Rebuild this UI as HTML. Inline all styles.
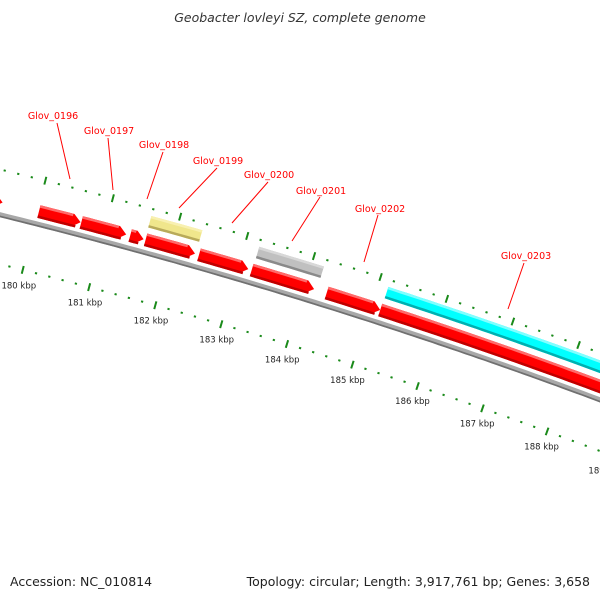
<!DOCTYPE html>
<html><head><meta charset="utf-8"><style>
html,body{margin:0;padding:0;background:#fff;}
svg{display:block;font-family:"DejaVu Sans","Liberation Sans",sans-serif;}
</style></head><body>
<svg id="map" width="600" height="600" viewBox="0 0 600 600" xmlns="http://www.w3.org/2000/svg">
<rect width="600" height="600" fill="#fff"/>
<text x="300" y="22" text-anchor="middle" font-size="12.5" font-style="italic" fill="#333">Geobacter lovleyi SZ, complete genome</text>
<g id="ticks"></g><g id="feat"></g><g id="labels"></g>
<text x="10" y="586" font-size="12.5" fill="#222">Accession: NC_010814</text>
<text x="590" y="586" text-anchor="end" font-size="12.5" fill="#222">Topology: circular; Length: 3,917,761 bp; Genes: 3,658</text>
</svg>
<script>
// data (bp)
const fwdStarts = [178800, 180020, 180650, 181380, 181610, 182410, 183200, 184330, 185140];
const fwdEnds   = [179480, 180640, 181320, 181580, 182350, 183150, 184140, 185140, 189500];
const ring2Starts = [181600, 183210, 185150];
const ring2Ends   = [182360, 184180, 189500];
const ring2Colors = ["yellow","gray","cyan"];
const tickLabelsKbp = [179,180,181,182,183,184,185,186,187,188,189];
const geneNames = ["Glov_0196","Glov_0197","Glov_0198","Glov_0199","Glov_0200","Glov_0201","Glov_0202","Glov_0203"];

const NS="http://www.w3.org/2000/svg";
const CX=-1307, CY=5517, R0=5461, TH0=-1.3226, K=0.012676/1000;
function th(bp){return TH0+(bp-180000)*K;}
function pt(bp,r){const t=th(bp);return [CX+r*Math.cos(t),CY+r*Math.sin(t)];}
function arcPts(s,e,r){const out=[];const n=Math.max(2,Math.ceil((e-s)/100));for(let i=0;i<=n;i++){out.push(pt(s+(e-s)*i/n,r));}return out;}
function mk(tag,attrs,parent){const el=document.createElementNS(NS,tag);for(const k in attrs)el.setAttribute(k,attrs[k]);parent.appendChild(el);return el;}
function band(s,e,r1,r2,head){ // polygon points
  let pts=[];
  if(head){const h=Math.min(115,(e-s)*0.6);const b=e-h;
    pts=pts.concat(arcPts(s,b,r2));pts.push(pt(e,(r1+r2)/2));pts=pts.concat(arcPts(s,b,r1).reverse());}
  else{pts=pts.concat(arcPts(s,e,r2));pts=pts.concat(arcPts(s,e,r1).reverse());}
  return pts.map(p=>p[0].toFixed(1)+","+p[1].toFixed(1)).join(" ");
}
const tg=document.getElementById('ticks'), fg=document.getElementById('feat'), lg=document.getElementById('labels');

// backbone
let bb=mk('polygon',{points:band(178500,190000,R0-2.5,R0+2.5,false),fill:'#a8a8a8'},fg);


let bbd=mk('polygon',{points:band(178500,190000,R0-2.5,R0-0.8,false),fill:'#707070'},fg);



// ticks
for(let bp=178600;bp<=190000;bp+=200){
  const major=(bp%1000===0);
  [[R0+44,R0+40,R0+48],[R0-48,R0-52,R0-44]].forEach((rr,i)=>{
    const a=major?pt(bp,rr[1]):pt(bp,rr[0]-1), b=major?pt(bp,rr[2]):pt(bp,rr[0]+1);
    const l=mk('line',{x1:a[0],y1:a[1],x2:b[0],y2:b[1],stroke:'#1a8a1a','stroke-width':major?2:2.2},tg);
    
    
  });
}
tickLabelsKbp.forEach(k=>{
  const p=pt(k*1000,R0-64);
  const t=mk('text',{x:p[0],y:p[1]+3,'text-anchor':'middle','font-size':'8.5',fill:'#222'},tg);
  t.textContent=k+' kbp';
  
  
});

// forward genes
fwdStarts.forEach((s,i)=>{
  const e=fwdEnds[i];
  const g=mk('g',{},fg);
  
  
  mk('polygon',{points:band(s,e,R0+6,R0+19,true),fill:'#ff0000'},g);
  mk('polygon',{points:band(s,e-130,R0+16.5,R0+19,false),fill:'#ff6a6a'},g);
  mk('polygon',{points:band(s,e-60,R0+6,R0+8.5,false),fill:'#c00000'},g);
});
const cols={yellow:['#f0e68c','#f8f0b0','#b8aa5a'],gray:['#c0c0c0','#d8d8d8','#8a8a8a'],cyan:['#00ffff','#80ffff','#00b0b0']};
ring2Starts.forEach((s,i)=>{
  const e=ring2Ends[i], c=cols[ring2Colors[i]];
  const g=mk('g',{},fg);
  
  
  mk('polygon',{points:band(s,e,R0+25,R0+37,false),fill:c[0]},g);
  mk('polygon',{points:band(s,e,R0+34.5,R0+37,false),fill:c[1]},g);
  mk('polygon',{points:band(s,e,R0+25,R0+27.5,false),fill:c[2]},g);
});

// labels (layout positions)
const labelPos=[[53,119,57,123,70,179],[109,134,108,138,113,190],[164,148,163,152,147,199],[218,164,217,168,179,208],[269,178,268,182,232,223],[321,194,320,197,292,241],[380,212,378,215,364,262],[526,259,524,263,508,309]];
geneNames.forEach((n,i)=>{
  const p=labelPos[i];
  const l=mk('line',{x1:p[2],y1:p[3],x2:p[4],y2:p[5],stroke:'#ff0000','stroke-width':1},lg);
  
  
  const t=mk('text',{x:p[0],y:p[1],'text-anchor':'middle','font-size':'9.5',fill:'#ff0000'},lg);
  t.textContent=n;
  
  
});
</script>
</body></html>
